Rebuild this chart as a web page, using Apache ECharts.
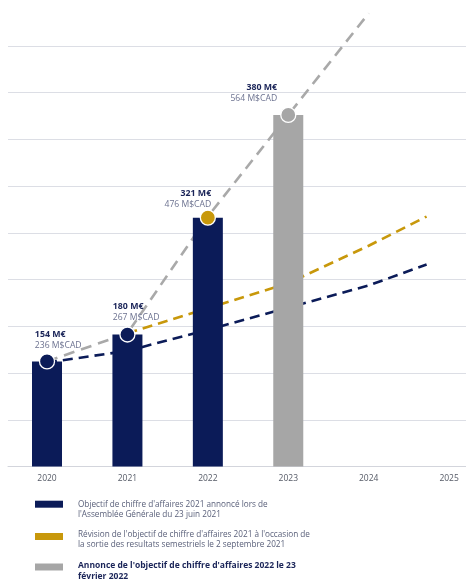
<!DOCTYPE html>
<html>
<head>
<meta charset="utf-8">
<script src="https://cdn.jsdelivr.net/npm/echarts@6/dist/echarts.min.js"></script>
<style>
html,body{margin:0;padding:0;background:#fff;}
#c{width:466px;height:583px;}
</style>
</head>
<body>
<div id="c"></div>
<script>
// ---- data (visual heights; chart is not to scale) ----
var years = [2020, 2021, 2022, 2023];
var barHeights = [90, 113, 213, 301];
var eurLabels = ['154 M€', '180 M€', '321 M€', '380 M€'];
var cadLabels = ['236 M$CAD', '267 M$CAD', '476 M$CAD', '564 M$CAD'];
var xTickLabels = [2020, 2021, 2022, 2023, 2024, 2025];
var blueLine = [[2020, 89], [2021, 99], [2022, 117], [2023, 136], [2024, 155], [2024.72, 173]];
var goldLine = [[2021, 114], [2022, 135.5], [2023, 157], [2024, 189], [2024.72, 214]];
var grayLine = [[2020, 90], [2021, 114], [2022, 214], [2023, 301], [2024, 388]];
var seriesNames = [
  "Objectif de chiffre d'affaires 2021 annoncé lors de\nl'Assemblée Générale du 23 juin 2021",
  "Révision de l'objectif de chiffre d'affaires 2021 à l'occasion de\nla sortie des resultats semestriels le 2 septembre 2021",
  "Annonce de l'objectif de chiffre d'affaires 2022 le 23\nfévrier 2022"
];

var NAVY = '#0b1b58', GOLD = '#c8980b', GRAY = '#a6a6a6', GRAYLINE = '#a9a9a9';
var barColors = [NAVY, NAVY, NAVY, GRAY];
var dotColors = [NAVY, NAVY, GOLD, GRAY];
var labelLayout = [
  {align: 'left', pos: [-4, -2]},
  {align: 'left', pos: [-6.5, -3]},
  {align: 'right', pos: [11.5, 0]},
  {align: 'right', pos: [-3, -3]}
];

var chart = echarts.init(document.getElementById('c'), null, {renderer: 'canvas'});
var font = '"Open Sans", "Noto Sans", sans-serif';

var barData = years.map(function (y, i) {
  return {value: [y, barHeights[i]], itemStyle: {color: barColors[i]}};
});
var dotData = years.map(function (y, i) {
  return {
    value: [y, barHeights[i]],
    itemStyle: {color: dotColors[i]},
    label: {
      show: true,
      position: labelLayout[i].pos,
      align: labelLayout[i].align,
      verticalAlign: 'bottom',
      formatter: '{e|' + eurLabels[i] + '}\n{c|' + cadLabels[i] + '}'
    }
  };
});

var option = {
  animation: false,
  backgroundColor: '#ffffff',
  textStyle: {fontFamily: font},
  grid: {left: 8, right: 0, top: 46, bottom: 116.5, containLabel: false},
  xAxis: {
    type: 'value',
    min: 2019.515,
    max: 2025.21,
    splitLine: {show: false},
    axisLine: {show: true, lineStyle: {color: '#d3d5dc', width: 1}},
    axisTick: {show: false},
    axisLabel: {
      customValues: xTickLabels,
      formatter: function (v) { return String(v); },
      color: '#555a66',
      fontSize: 8.5,
      fontFamily: font,
      margin: 8
    }
  },
  yAxis: {
    type: 'value',
    min: 0,
    max: 360,
    interval: 40,
    axisLine: {show: false},
    axisTick: {show: false},
    axisLabel: {show: false},
    splitLine: {lineStyle: {color: '#dcdee5', width: 1}}
  },
  series: [
    {
      name: seriesNames[0], type: 'line', data: blueLine, z: 1, clip: false,
      symbol: 'none', itemStyle: {color: NAVY},
      lineStyle: {color: NAVY, width: 2.6, type: [10, 6]}
    },
    {
      name: seriesNames[1], type: 'line', data: goldLine, z: 1, clip: false,
      symbol: 'none', itemStyle: {color: GOLD},
      lineStyle: {color: GOLD, width: 2.6, type: [10, 6]}
    },
    {
      name: seriesNames[2], type: 'line', data: grayLine, z: 1, clip: false,
      symbol: 'none', itemStyle: {color: GRAYLINE},
      lineStyle: {color: GRAYLINE, width: 2.6, type: [11, 7]}
    },
    {
      type: 'bar', data: barData, barWidth: 30, z: 2
    },
    {
      type: 'scatter', data: dotData, z: 3, symbolSize: 15,
      itemStyle: {borderColor: '#ffffff', borderWidth: 1.3, opacity: 1},
      label: {
        rich: {
          e: {fontSize: 8.8, fontWeight: 'bold', color: '#1a2458', lineHeight: 11, fontFamily: font},
          c: {fontSize: 8.6, color: '#6c7290', lineHeight: 11, fontFamily: font}
        }
      }
    }
  ],
  graphic: [
    {type: 'rect', shape: {x: 35, y: 500.7, width: 28, height: 7}, style: {fill: NAVY}},
    {type: 'text', x: 78, y: 500, style: {text: seriesNames[0], fill: '#5a607a', fontSize: 8.2, lineHeight: 10, fontFamily: font, textVerticalAlign: 'top'}},
    {type: 'rect', shape: {x: 35, y: 533, width: 28, height: 7}, style: {fill: GOLD}},
    {type: 'text', x: 78, y: 530, style: {text: seriesNames[1], fill: '#5a607a', fontSize: 8.2, lineHeight: 10, fontFamily: font, textVerticalAlign: 'top'}},
    {type: 'rect', shape: {x: 35, y: 563.5, width: 28, height: 7}, style: {fill: GRAY}},
    {type: 'text', x: 78, y: 559.5, style: {text: seriesNames[2], fill: '#1a2458', fontSize: 8.5, fontWeight: 'bold', lineHeight: 11.5, fontFamily: font, textVerticalAlign: 'top'}}
  ]
};
chart.setOption(option);
</script>
</body>
</html>
